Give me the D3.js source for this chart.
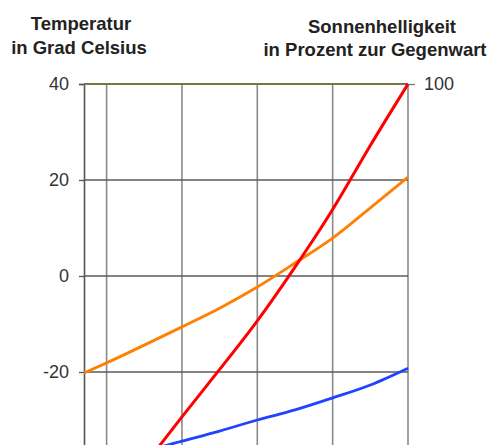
<!DOCTYPE html>
<html>
<head>
<meta charset="utf-8">
<script src="https://cdn.jsdelivr.net/npm/d3@7"></script>
<style>
  html, body { margin: 0; padding: 0; background: #fff; overflow: hidden; }
  svg { display: block; }
</style>
</head>
<body>
<svg id="chart" width="492" height="445"></svg>
<script>
// Time in billions of years relative to today
const years = [-4.3, -4, -3.5, -3, -2.5, -2, -1.5, -1, -0.5, 0];
// Temperature (°C), orange curve
const tempOrange = [-20.2, -18.1, -14.4, -10.6, -6.7, -2.3, 2.7, 7.9, 14.2, 20.6];
// Temperature (°C), blue curve
const tempBlue = [-39.4, -38.3, -36.5, -34.4, -32.3, -30, -27.9, -25.4, -22.7, -19.2];
// Sun brightness in percent of today, red curve
const sunYears = [-3.5, -3, -2.5, -2, -1.5, -1, -0.5, 0];
const sunBrightness = [70.2, 74.0, 77.7, 81.5, 85.7, 90.2, 95.2, 100];

const xGrid = [-4, -3, -2, -1, 0];
const leftTicks = [40, 20, 0, -20];
const rightTicks = [100];

(function () {
const svg = d3.select("#chart");
const pL = 84, pR = 408, pT = 84, pB = 468;

const x = d3.scaleLinear().domain([-4.3, 0]).range([pL, pR]);
const yL = d3.scaleLinear().domain([-40, 40]).range([pB, pT]);
const yR = d3.scaleLinear().domain([70, 100]).range([pB, pT]);

svg.append("defs").append("clipPath").attr("id", "plotclip")
  .append("rect").attr("x", pL).attr("y", pT - 3)
  .attr("width", pR - pL + 3).attr("height", pB - pT + 3);

// vertical grid lines
svg.append("g").selectAll("line").data(xGrid).join("line")
  .attr("x1", d => x(d)).attr("x2", d => x(d))
  .attr("y1", pT).attr("y2", pB)
  .attr("stroke", "#8a8a8a").attr("stroke-width", 1.6);

// horizontal grid lines
svg.append("g").selectAll("line").data(leftTicks.filter(d => d !== 40)).join("line")
  .attr("x1", pL).attr("x2", pR)
  .attr("y1", d => yL(d)).attr("y2", d => yL(d))
  .attr("stroke", "#5a5a5a").attr("stroke-width", 1.5);

// left axis
const leftAxis = d3.axisLeft(yL).tickValues(leftTicks).tickSize(5).tickPadding(10).tickFormat(d => String(d));
const gL = svg.append("g").attr("transform", `translate(${pL},0)`).call(leftAxis);
gL.select(".domain").attr("stroke", "#555").attr("stroke-width", 1.6);
gL.selectAll(".tick line").attr("stroke", "#555").attr("stroke-width", 1.3);
gL.selectAll(".tick text")
  .attr("font-family", "'Liberation Sans', Arial, sans-serif")
  .attr("font-size", 18).attr("fill", "#333");

// top line (olive)
svg.append("line")
  .attr("x1", pL).attr("x2", pR).attr("y1", yL(40)).attr("y2", yL(40))
  .attr("stroke", "#77773f").attr("stroke-width", 2);

// right axis (only tick + label)
const rightAxis = d3.axisRight(yR).tickValues(rightTicks).tickSize(7).tickPadding(9).tickFormat(d => String(d));
const gR = svg.append("g").attr("transform", `translate(${pR},0)`).call(rightAxis);
gR.select(".domain").remove();
gR.selectAll(".tick line").attr("stroke", "#777").attr("stroke-width", 1.3);
gR.selectAll(".tick text")
  .attr("font-family", "'Liberation Sans', Arial, sans-serif")
  .attr("font-size", 18).attr("fill", "#333");

// curves
const plot = svg.append("g").attr("clip-path", "url(#plotclip)");
const lineT = d3.line().x(d => x(d[0])).y(d => yL(d[1])).curve(d3.curveMonotoneX);
const lineS = d3.line().x(d => x(d[0])).y(d => yR(d[1])).curve(d3.curveMonotoneX);

plot.append("path").datum(d3.zip(years, tempBlue))
  .attr("d", lineT).attr("fill", "none").attr("stroke", "#1f43ff").attr("stroke-width", 2.8);
plot.append("path").datum(d3.zip(years, tempOrange))
  .attr("d", lineT).attr("fill", "none").attr("stroke", "#ff8000").attr("stroke-width", 2.8);
plot.append("path").datum(d3.zip(sunYears, sunBrightness))
  .attr("d", lineS).attr("fill", "none").attr("stroke", "#ff0000").attr("stroke-width", 3);

// titles
const tf = "'Liberation Sans', Arial, sans-serif";
function title(txt, cx, y) {
  svg.append("text").attr("x", cx).attr("y", y).attr("text-anchor", "middle")
    .attr("font-family", tf).attr("font-weight", "bold").attr("font-size", 18.5)
    .attr("fill", "#222").text(txt);
}
title("Temperatur", 81, 30);
title("in Grad Celsius", 79, 54);
title("Sonnenhelligkeit", 382, 33);
title("in Prozent zur Gegenwart", 375, 56);
})();
</script>
</body>
</html>
